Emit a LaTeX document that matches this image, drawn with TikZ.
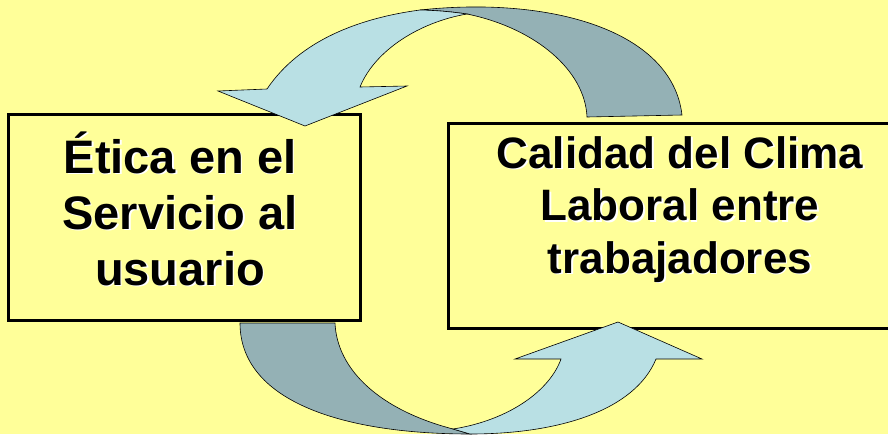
\documentclass[tikz,border=0pt]{standalone}
\usepackage{fontspec}
\setmainfont{Liberation Sans}
\usepackage{tikz}
\definecolor{fondo}{RGB}{255,255,153}
\definecolor{celeste}{RGB}{185,224,228}
\definecolor{grisazul}{RGB}{148,177,181}

\begin{document}
\begin{tikzpicture}[x=1pt, y=-1pt,
    caja/.style={draw, line width=3.5pt, fill=fondo, inner sep=0pt},
    texto/.style={align=center, anchor=base, inner sep=0pt},
    sombra/.style={texto, text=white},
    cinta/.style={draw, line width=0.6pt, line join=miter}]
  \fill[fondo] (0,0) rectangle (888,434);
  \useasboundingbox (0,0) rectangle (888,434);

  % cajas
  \node[caja, minimum width=352pt, minimum height=206pt] (etica) at (184.5,217.5) {};
  \node[caja, minimum width=463pt, minimum height=205pt] (calidad) at (680,226) {};

  % textos con sombra blanca
  \node[sombra, font=\bfseries\fontsize{47}{56}\selectfont] (etica-sombra) at (181.5,286.5)
    {Ética en el\\Servicio al\\usuario};
  \node[texto, font=\bfseries\fontsize{47}{56}\selectfont] (etica-txt) at (180,285)
    {Ética en el\\Servicio al\\usuario};
  \node[sombra, font=\bfseries\fontsize{44}{52.5}\selectfont] (calidad-sombra) at (681.5,274.5)
    {Calidad del Clima\\Laboral entre\\trabajadores};
  \node[texto, font=\bfseries\fontsize{44}{52.5}\selectfont] (calidad-txt) at (680,273)
    {Calidad del Clima\\Laboral entre\\trabajadores};

  % flecha de arriba
  \draw[cinta, fill=grisazul] (420,10) .. controls (550,-4) and (672,30) .. (682,115)
    -- (587,117) .. controls (585,70) and (535,28) .. (467,14)
    .. controls (450,11.5) and (435,10.3) .. (420,10) -- cycle;
  \draw[cinta, fill=celeste] (360,87) .. controls (375,50) and (420,22) .. (467,14)
    .. controls (450,11.5) and (435,10.3) .. (420,10)
    .. controls (360,18) and (300,40) .. (267,89)
    -- (218,91) -- (305,126) -- (407,86) -- cycle;

  % flecha de abajo
  \draw[cinta, fill=grisazul] (240,323) .. controls (240,400) and (340,434) .. (470,434)
    -- (453,429) .. controls (380,410) and (337,370) .. (335,323) -- cycle;
  \draw[cinta, fill=celeste] (453,429) .. controls (510,420) and (550,390) .. (561,359)
    -- (515,359) -- (618,322) -- (702,359) -- (656,359)
    .. controls (635,410) and (560,434) .. (470,434) -- cycle;
\end{tikzpicture}
\end{document}
